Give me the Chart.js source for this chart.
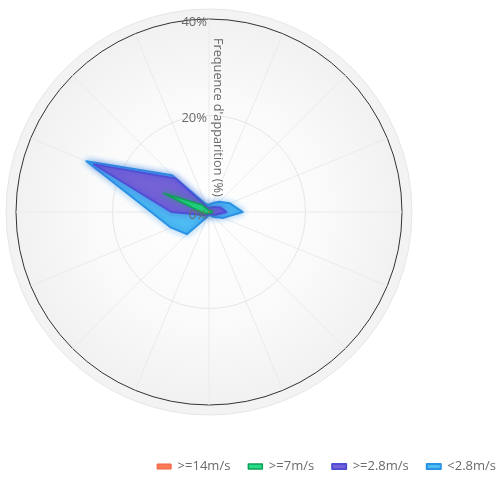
<!DOCTYPE html>
<html>
<head>
<meta charset="utf-8">
<script src="https://cdn.jsdelivr.net/npm/chart.js@4.4.1/dist/chart.umd.min.js"></script>
<style>
    html, body { margin: 0; padding: 0; background: #fff; }
    #wrap { width: 502px; height: 478px; }
</style>
</head>
<body>
<div id="wrap"><canvas id="windRose"></canvas></div>
<script>
// 16 wind directions, clockwise from north
const directions = ['N', 'NNE', 'NE', 'ENE', 'E', 'ESE', 'SE', 'SSE', 'S', 'SSW', 'SW', 'WSW', 'W', 'WNW', 'NW', 'NNW'];

// frequency (%) as plotted, each band includes the faster ones
const over14 = [0, 0, 0, 0, 0, 0, 0, 0, 0, 0, 0, 0, 0, 0.2, 0, 0];
const over7 = [0.3, 0.3, 0.4, 0.6, 0.7, 0.4, 0.3, 0.2, 0.2, 0.2, 0.4, 0.8, 1.7, 10.2, 2.1, 0.5];
const over28 = [0.8, 1.0, 1.5, 2.5, 3.6, 1.5, 0.8, 0.5, 0.4, 0.6, 1.0, 1.5, 7.8, 25.8, 9.8, 1.2];
const under28 = [1.5, 2.0, 3.0, 4.7, 7.0, 3.2, 1.5, 0.8, 0.6, 1.2, 6.5, 8.5, 12.0, 27.5, 10.8, 1.8];

const tickValues = [0, 20, 40];
const axisTitle = "Frequence d'apparition (%)";

const font = "'Open Sans', 'DejaVu Sans', sans-serif";
const textColor = '#6a6a6a';

// place the rose left of the legend, keep its own scale math
const roseFrame = {
    id: 'roseFrame',
    afterLayout(chart) {
        const r = chart.scales.r;
        r.xCenter = 209;
        r.yCenter = 212;
        r.drawingArea = 193;
    },
    beforeDraw(chart) {
        const r = chart.scales.r;
        const ctx = chart.ctx;
        const cx = r.xCenter, cy = r.yCenter, rad = r.drawingArea;
        ctx.save();
        ctx.beginPath();
        ctx.arc(cx, cy, rad + 10, 0, Math.PI * 2);
        ctx.fillStyle = '#f3f3f3';
        ctx.fill();
        ctx.strokeStyle = '#e6e6e6';
        ctx.lineWidth = 1;
        ctx.stroke();
        const g = ctx.createRadialGradient(cx, cy, 0, cx, cy, rad);
        g.addColorStop(0, '#ffffff');
        g.addColorStop(0.6, '#fafafa');
        g.addColorStop(1, '#f1f1f1');
        ctx.beginPath();
        ctx.arc(cx, cy, rad, 0, Math.PI * 2);
        ctx.fillStyle = g;
        ctx.fill();
        ctx.restore();
    },
    beforeDatasetDraw(chart, args) {
        const ds = chart.data.datasets[args.index];
        chart.ctx.save();
        chart.ctx.shadowColor = ds.borderColor;
        chart.ctx.shadowBlur = 6;
    },
    afterDatasetDraw(chart) {
        chart.ctx.restore();
    },
    afterDraw(chart) {
        const r = chart.scales.r;
        const ctx = chart.ctx;
        ctx.save();
        ctx.fillStyle = textColor;
        ctx.font = "13px " + font;
        ctx.textAlign = 'right';
        ctx.textBaseline = 'middle';
        r.ticks.forEach((t) => {
            const y = r.yCenter - r.getDistanceFromCenterForValue(t.value);
            ctx.fillText(t.value + '%', r.xCenter - 2, y + 3);
        });
        // rotated axis title along the north spoke
        ctx.translate(r.xCenter + 9, r.yCenter - 174);
        ctx.rotate(Math.PI / 2);
        ctx.textAlign = 'left';
        ctx.font = "12.7px " + font;
        ctx.fillText(axisTitle, 0, 0);
        ctx.restore();
    }
};

const ctx = document.getElementById('windRose').getContext('2d');

const windRose = new Chart(ctx, {
    type: 'radar',
    data: {
        labels: directions,
        datasets: [
            {
                label: '>=14m/s',
                data: over14,
                backgroundColor: '#fa7b58',
                borderColor: '#f06040',
                borderWidth: 1
            },
            {
                label: '>=7m/s',
                data: over7,
                backgroundColor: '#26dc86',
                borderColor: '#0f9f58',
                borderWidth: 1.5
            },
            {
                label: '>=2.8m/s',
                data: over28,
                backgroundColor: '#7462d6',
                borderColor: '#4f4fd6',
                borderWidth: 2
            },
            {
                label: '<2.8m/s',
                data: under28,
                backgroundColor: '#4fbcf2',
                borderColor: '#2c92e4',
                borderWidth: 2
            }
        ]
    },
    options: {
        responsive: true,
        maintainAspectRatio: false,
        animation: false,
        layout: {
            padding: { left: 0, right: -12, top: 0, bottom: -5 }
        },
        elements: {
            line: { tension: 0, fill: true, borderJoinStyle: 'round' },
            point: { radius: 0, hoverRadius: 0 }
        },
        scales: {
            r: {
                min: 0,
                max: tickValues[tickValues.length - 1],
                ticks: {
                    display: false,
                    stepSize: tickValues[1] - tickValues[0]
                },
                pointLabels: { display: false },
                grid: {
                    circular: true,
                    color: (c) => c.tick && c.tick.value === 40 ? '#333333' : '#e6e6e6',
                    lineWidth: 1
                },
                angleLines: {
                    color: '#ebebeb'
                }
            }
        },
        plugins: {
            legend: {
                position: 'bottom',
                align: 'end',
                labels: {
                    color: textColor,
                    font: { family: font, size: 13 },
                    boxWidth: 14,
                    boxHeight: 5,
                    padding: 18
                }
            },
            tooltip: { enabled: false }
        }
    },
    plugins: [roseFrame]
});
</script>
</body>
</html>
